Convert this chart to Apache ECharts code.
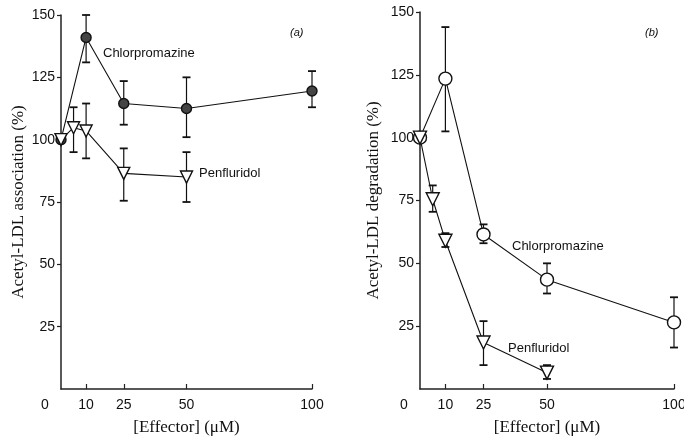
<!DOCTYPE html>
<html><head><meta charset="utf-8">
<script src="https://cdn.jsdelivr.net/npm/echarts@6/dist/echarts.min.js"></script>
<style>html,body{margin:0;padding:0;background:#fff}#c{width:684px;height:436px}</style>
</head><body><div id="c"></div>
<script>
// Panel (a): association
const aChlorX = [0, 10, 25, 50, 100];
const aChlorY = [100, 141, 114.5, 112.5, 119.5];
const aChlorLo = [100, 131, 106, 101, 113];
const aChlorHi = [100, 150, 123.5, 125, 127.5];
const aPenX = [0, 5, 10, 25, 50];
const aPenY = [100, 104.8, 103.5, 86.5, 85];
const aPenLo = [100, 95, 92.5, 75.5, 75];
const aPenHi = [100, 113, 114.5, 96.5, 95];
// Panel (b): degradation
const bChlorX = [0, 10, 25, 50, 100];
const bChlorY = [100, 123.5, 61.5, 43.5, 26.5];
const bChlorLo = [100, 102.5, 58, 38, 16.5];
const bChlorHi = [100, 144, 65.5, 50, 36.5];
const bPenX = [0, 5, 10, 25, 50];
const bPenY = [100, 75.5, 59, 18.5, 6.5];
const bPenLo = [100, 70.5, 56.5, 9.5, 4];
const bPenHi = [100, 81, 62, 27, 9.5];
const xTicks = [0, 10, 25, 50, 100];
const yTicks = [25, 50, 75, 100, 125, 150];

const chart = echarts.init(document.getElementById('c'));
const serif = '"Liberation Serif","DejaVu Serif",serif';
const sans = '"Liberation Sans","DejaVu Sans",sans-serif';

function pts(xs, ys){ return xs.map((x,i)=>[x, ys[i]]); }
function errData(xs, lo, hi){ return xs.map((x,i)=>[x, lo[i], hi[i]]); }

function errSeries(idx, data){
  return {
    type: 'custom', xAxisIndex: idx, yAxisIndex: idx, z: 1,
    data: data,
    renderItem: function(params, api){
      const x = api.value(0), lo = api.value(1), hi = api.value(2);
      if (lo === hi) return null;
      const p1 = api.coord([x, lo]), p2 = api.coord([x, hi]);
      const w = 4;
      const st = {stroke:'#111', lineWidth:1.2};
      return {type:'group', children:[
        {type:'line', shape:{x1:p1[0],y1:p1[1],x2:p2[0],y2:p2[1]}, style:st},
        {type:'line', shape:{x1:p1[0]-w,y1:p1[1],x2:p1[0]+w,y2:p1[1]}, style:{stroke:'#111',lineWidth:1.8}},
        {type:'line', shape:{x1:p2[0]-w,y1:p2[1],x2:p2[0]+w,y2:p2[1]}, style:{stroke:'#111',lineWidth:1.8}}
      ]};
    }
  };
}

function lineSeries(idx, data, symbol, size, fill, rotate){
  return {
    type:'line', xAxisIndex: idx, yAxisIndex: idx, z: 3,
    data: data, symbol: symbol, symbolSize: size, symbolRotate: rotate||0,
    showAllSymbol: true, animation:false,
    lineStyle:{color:'#111', width:1.1},
    itemStyle:{color: fill, borderColor:'#111', borderWidth:1.4}
  };
}

function xAxis(idx){
  return {
    type:'value', gridIndex: idx, min:0, max:100,
    axisLine:{show:true, lineStyle:{color:'#222', width:1.5}},
    axisTick:{show:true, inside:true, length:5, customValues:[10,25,50,100], lineStyle:{color:'#222', width:1.2}},
    splitLine:{show:false},
    axisLabel:{customValues: xTicks, color:'#111', fontFamily: sans, fontSize:14, margin:9,
      formatter: v => v === 0 ? '{z|0}' : String(v),
      rich:{z:{padding:[0,32,0,0], fontFamily: sans, fontSize:14, color:'#111'}}},
    name:'[Effector] (μM)', nameLocation:'middle', nameGap:30,
    nameTextStyle:{fontFamily: serif, fontSize:17, color:'#111'}
  };
}
function yAxis(idx, name, gap){
  return {
    type:'value', gridIndex: idx, min:0, max:150, interval:25,
    axisLine:{show:true, lineStyle:{color:'#222', width:1.5}},
    axisTick:{show:true, length:4, customValues: yTicks, lineStyle:{color:'#222', width:1.2}},
    splitLine:{show:false},
    axisLabel:{customValues: yTicks, color:'#111', fontFamily: sans, fontSize:14, margin:6},
    name: name, nameLocation:'middle', nameGap: gap, nameRotate:90,
    nameTextStyle:{fontFamily: serif, fontSize:17, color:'#111'}
  };
}

chart.setOption({
  animation:false,
  backgroundColor:'#fff',
  grid:[
    {left:61, top:15, width:251, bottom:47, outerBoundsMode:'none', containLabel:false},
    {left:420, top:12, width:254, bottom:47, outerBoundsMode:'none', containLabel:false}
  ],
  xAxis:[xAxis(0), xAxis(1)],
  yAxis:[yAxis(0,'Acetyl-LDL association (%)',34), yAxis(1,'Acetyl-LDL degradation (%)',38)],
  series:[
    errSeries(0, errData(aChlorX, aChlorLo, aChlorHi)),
    errSeries(0, errData(aPenX, aPenLo, aPenHi)),
    lineSeries(0, pts(aChlorX, aChlorY), 'circle', 10, '#444'),
    lineSeries(0, pts(aPenX, aPenY), 'triangle', 12, '#fff', 180),
    errSeries(1, errData(bChlorX, bChlorLo, bChlorHi)),
    errSeries(1, errData(bPenX, bPenLo, bPenHi)),
    lineSeries(1, pts(bChlorX, bChlorY), 'circle', 13, '#fff'),
    lineSeries(1, pts(bPenX, bPenY), 'triangle', 13, '#fff', 180)
  ],
  graphic:[
    {type:'text', left:103, top:47, style:{text:'Chlorpromazine', font:'13px '+sans, fill:'#111'}},
    {type:'text', left:199, top:167, style:{text:'Penfluridol', font:'13px '+sans, fill:'#111'}},
    {type:'text', left:290, top:27, style:{text:'(a)', font:'italic 11px '+sans, fill:'#111'}},
    {type:'text', left:512, top:240, style:{text:'Chlorpromazine', font:'13px '+sans, fill:'#111'}},
    {type:'text', left:508, top:342, style:{text:'Penfluridol', font:'13px '+sans, fill:'#111'}},
    {type:'text', left:645, top:27, style:{text:'(b)', font:'italic 11px '+sans, fill:'#111'}}
  ]
});
</script></body></html>
